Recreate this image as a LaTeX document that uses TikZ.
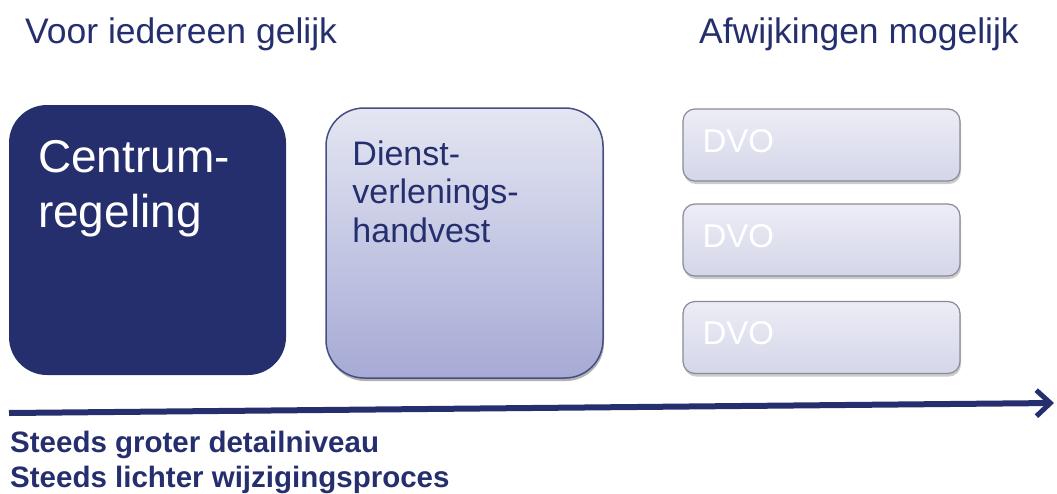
\documentclass[tikz,border=0pt]{standalone}
\usepackage{fontspec}
\setmainfont{Liberation Sans}
\usetikzlibrary{arrows.meta}
\usetikzlibrary{shadows}
\usetikzlibrary{positioning}
\definecolor{navy}{RGB}{38,47,110}
\definecolor{lavtop}{RGB}{228,230,242}
\definecolor{lavbot}{RGB}{166,170,213}
\definecolor{dvotop}{RGB}{236,237,245}
\definecolor{dvobot}{RGB}{212,214,233}
\definecolor{dvoline}{RGB}{138,139,150}
\tikzset{
  heading/.style={anchor=base west, inner sep=0pt, text=navy, font=\fontsize{35.5}{40}\selectfont},
  bigbox/.style={minimum width=277pt, minimum height=270pt, rounded corners=38pt, inner sep=0pt},
  dvobox/.style={minimum width=277pt, minimum height=72pt, rounded corners=12pt, inner sep=0pt,
    draw=dvoline, line width=1.2pt, top color=dvotop, bottom color=dvobot,
    drop shadow={shadow xshift=1pt, shadow yshift=-3pt, opacity=.2, fill=black}},
  dvotext/.style={anchor=base west, inner sep=0pt, text=white, font=\fontsize{33}{38}\selectfont},
}
\begin{document}
\begin{tikzpicture}[x=1pt,y=-1pt]
      \useasboundingbox (0,0) rectangle (1057,493);
      % kopjes
      \node[heading] (gelijk) at (25,43) {Voor iedereen gelijk};
      \node[heading] (afwijk) at (699,43) {Afwijkingen mogelijk};
      % blokken (base = onderste regel)
      \node[bigbox, fill=navy] (centrum) at (147.5,240) {};
      \node[anchor=base west, inner sep=0pt, text=white, align=left,
        font=\fontsize{46}{55}\selectfont] (centrumtxt)
        at ([shift={(29,123)}]centrum.north west) {Centrum-\\regeling};
      \node[bigbox, draw=navy!85, line width=1.5pt, top color=lavtop, bottom color=lavbot,
        drop shadow={shadow xshift=1pt, shadow yshift=-3pt, opacity=.3, fill=black}] (dienst) at (464.5,243) {};
      \node[anchor=base west, inner sep=0pt, text=navy, align=left,
        font=\fontsize{34}{38.5}\selectfont] (diensttxt)
        at ([shift={(27,135)}]dienst.north west) {Dienst-\\verlenings-\\handvest};
      \node[dvobox] (dvoa) at (821.5,145) {};
      \node[dvobox] (dvob) at (821.5,240) {};
      \node[dvobox] (dvoc) at (821.5,337.5) {};
      \node[dvotext] (dvoatxt) at ([shift={(20,7)}]dvoa.west) {DVO};
      \node[dvotext] (dvobtxt) at ([shift={(20,7)}]dvob.west) {DVO};
      \node[dvotext] (dvoctxt) at ([shift={(20,7)}]dvoc.west) {DVO};
      % pijl
      \coordinate (pijlbegin) at (9,413);
      \coordinate (pijleind) at (1054,403);
      \draw[navy, line width=6pt, -{Straight Barb[length=14pt,width=26pt,line width=5pt]}] (pijlbegin) -- (pijleind);
      \node[anchor=base west, inner sep=0pt, text=navy, align=left,
        font=\bfseries\fontsize{29.5}{35}\selectfont] (onder)
        at (10,487) {Steeds groter detailniveau\\Steeds lichter wijzigingsproces};
    \end{tikzpicture}
\end{document}
